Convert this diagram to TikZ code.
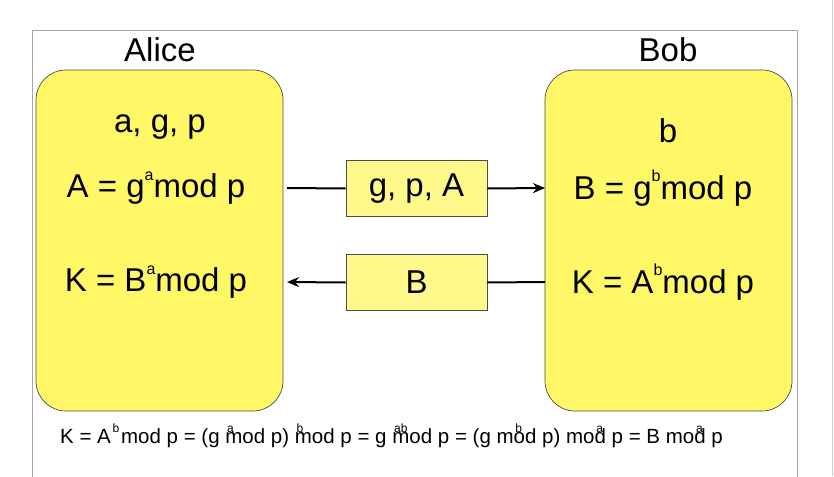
\documentclass[tikz,border=0pt]{standalone}
\usepackage{fontspec}
\setmainfont{Liberation Sans}
\usetikzlibrary{arrows.meta}
\newcommand{\ov}[1]{\makebox[0pt][l]{\raisebox{1.0ex}{\fontsize{12}{12}\selectfont\hspace{0.15em}#1}}}
\newcommand{\mysup}[1]{\raisebox{1.0ex}{\fontsize{16}{16}\selectfont #1}}
\begin{document}
\begin{tikzpicture}[x=1pt,y=-1pt,
  party/.style={draw=black!70,fill=yellow!60,rounded corners=30pt,line width=0.7pt},
  msg/.style={draw=black!70,fill=yellow!45,line width=0.7pt,minimum width=141pt,minimum height=56pt,font=\fontsize{33}{33}\selectfont,inner sep=0pt},
  big/.style={font=\fontsize{33}{33}\selectfont,inner sep=0pt},
  arr/.style={line width=2pt,-{Stealth[length=12pt,width=10pt]}}]
\useasboundingbox (0,0) rectangle (834,476);
\fill[white] (0,0) rectangle (834,476);
\draw[black!35,line width=0.8pt] (32,480) -- (32,30) -- (797,30) -- (797,480);
\draw[black!20,line width=0.5pt] (832,0) -- (832,476);
\draw[party] (36,70) rectangle (283,411);
\draw[party] (545,70) rectangle (792,411);
\node[big] (alice) at (160,50) {Alice};
\node[big] (bob) at (668,50) {Bob};
\node[big] (agp) at (160,127) {a, g, p};
\node[big] (A) at (156,188) {A = g\mysup{a}mod p};
\node[big] (KA) at (156,282) {K = B\mysup{a}mod p};
\node[big] (b) at (668,131) {b};
\node[big] (B) at (663,188) {B = g\mysup{b}mod p};
\node[big] (KB) at (663,282) {K = A\mysup{b}mod p};
\node[msg] (m1) at (416.5,188.5) {g, p, A};
\node[msg] (m2) at (416.5,282.5) {B};
\coordinate (a1) at (287,188);
\coordinate (b1) at (545,188);
\coordinate (a2) at (287,282);
\coordinate (b2) at (545,282);
\draw[line width=2pt] (a1) -- (m1.west);
\draw[arr] (m1.east) -- (b1);
\draw[line width=2pt] (b2) -- (m2.east);
\draw[arr] (m2.west) -- (a2);
\node[anchor=base west,inner sep=0pt,font=\fontsize{20.5}{20.5}\selectfont] (f) at (60,443)
 {K = A\ov{b}\hspace{0.5em}mod p = (g \ov{a}mod p) \ov{b}mod p = g \ov{ab}mod p = (g m\ov{b}od p) mo\ov{a}d p = B mo\ov{a}d p};
\end{tikzpicture}
\end{document}
